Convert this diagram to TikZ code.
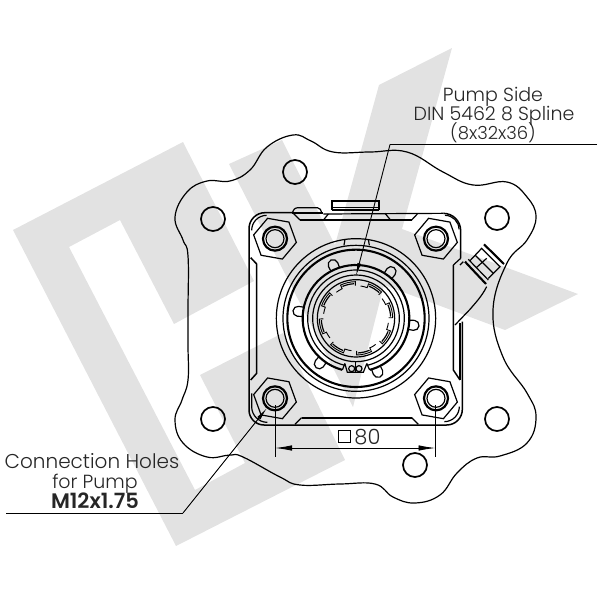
\documentclass[tikz,border=0pt]{standalone}
\usepackage{fontspec}
\usetikzlibrary{arrows.meta}
\setmainfont{Poppins Light}
\newfontfamily\boldlabel{Poppins SemiBold}
\definecolor{wm}{HTML}{E2E2E2}
\tikzset{
  thinline/.style={line width=0.9pt,black},
  midline/.style={line width=1.2pt,black},
  heavy/.style={line width=2.1pt,black},
  lab/.style={inner sep=0pt,anchor=base,font=\fontsize{19}{21}\selectfont,text=black!85},
  leader/.style={line width=0.9pt,black},
  tipped/.style={leader,-{Latex[length=13pt,width=4pt]}},
  dimtips/.style={leader,{Latex[length=17pt,width=5.5pt]}-{Latex[length=17pt,width=5.5pt]}},
}
\begin{document}
\begin{tikzpicture}[x=1pt,y=-1pt]
\useasboundingbox (0,0) rectangle (600,600);
% watermark
\fill[wm] (13,230)--(183,142)--(254,281)--(174,324)--(120,220)--(69,247)--(195,490)--(245,463)--(200,375)--(283,333)--(345,460)--(176,546)--cycle;
\fill[wm] (229,164)--(282,140)--(335,245)--(379,85)--(452,48)--(402,229)--(578,294)--(505,330)--(384,285)--(353,407)--cycle;
% plate outline
\draw[midline] plot[smooth cycle,tension=0.7] coordinates {
 (188,310)(188,256)(183,240)(175,217)(187,192)(207,181)(230,181)(250,170)(267,147)(293,135)(311,141)(333,152)(370,152)(407,152)(443,172)(473,185)(507,182)(527,197)(536,217)(527,240)(507,263)(493,310)(503,357)(527,393)(536,417)(527,443)(500,456)(477,458)(457,473)(440,495)(415,503)(393,497)(375,484)(340,484)(300,485)(280,477)(243,457)(230,455)(207,457)(183,443)(175,420)(182,400)(188,380)(188,345)};
% plate holes
\foreach \hx/\hy in {295/172,213/219,213/419,415/465,497/419,497/218}
  \draw[line width=1.7pt] (\hx,\hy) circle[radius=12];
% mechanical body, in coordinates of 1/3 px
\begin{scope}[shift={(230,190)},x=0.33333pt,y=-0.33333pt]
 % outline
 \draw[heavy,line width=1.5pt] (190,68)--(105,68) arc[start angle=-90,delta angle=-90,radius=48]--(57,660) arc[start angle=180,delta angle=-90,radius=45]--(650,705) arc[start angle=90,delta angle=-90,radius=47]--(697,395);
 \draw[heavy,line width=1.5pt] (640,70) arc[start angle=-90,delta angle=90,radius=52]--(692,205);
 \draw[midline] (110,76) arc[start angle=-90,delta angle=-90,radius=45];
 \draw[midline] (645,76) arc[start angle=-90,delta angle=90,radius=42];
 \draw[midline] (65,610) --(65,650) arc[start angle=180,delta angle=-90,radius=47];
 \draw[midline] (688,650) arc[start angle=0,delta angle=90,radius=45];
 % left and right side inner lines
 \draw[heavy,line width=1.5pt] (62,203)--(80,222)--(80,550)--(62,570);
 \draw[heavy,line width=1.5pt] (670,225)--(670,540)--(690,570);
 \draw[midline] (692,205)--(670,225);
 % top
 \draw[midline] (187,70) .. controls (190,58) and (195,53) .. (205,53)--(262,53) .. controls (270,53) and (273,60) .. (275,70);
 \draw[heavy] (187,70)--(280,70);
 \draw[midline] (280,72)--(640,70);
 \draw[midline] (190,70)--(210,90);
 \draw[heavy] (210,90)--(545,90);
 \draw[midline] (282,88)--(295,72);
 \draw[midline] (465,70)--(480,88);
 \draw[midline] (545,90)--(562,72);
 \draw[heavy] (305,60)--(305,33)--(447,33)--(447,60);
 \draw[heavy] (305,60)--(447,60);
 \draw[thinline] (305,52)--(447,52);
 % bottom
 \draw[heavy] (215,683)--(545,683);
 \draw[midline] (215,683)--(195,703);
 \draw[midline] (545,683)--(565,703);
 % right bracket
 \draw[midline] (690,225)--(700,215);
 \draw[midline] (770,290) .. controls (755,320) and (735,340) .. (720,358)--(675,405);
 \draw[midline] (690,400)--(690,570);
 % plug
 \draw[heavy] (705,215)--(768,282);
 \draw[midline] (715,208)--(775,270);
 \draw[midline] (720,212)--(755,175)--(810,230)--(775,265);
 \draw[midline] (740,232)--(770,205);
 \draw[midline] (735,195)--(790,250);
 \draw[heavy] (762,163)--(822,222);
 % nuts
 \foreach \nx/\ny in {135/146,618/146,135/625,618/625}{
   \draw[midline] (\nx,\ny) ++(10:65)--++(130:65)--++(190:65)--++(250:65)--++(310:65)--++(10:65)--cycle;
   \draw[line width=2.2pt] (\nx,\ny) circle[radius=36];
   \draw[midline] (\nx,\ny) circle[radius=27];
 }
 % rings
 \draw[midline] (378,385) circle[radius=239];
 \draw[midline] (378,385) circle[radius=219];
 \draw[heavy] (378,385) circle[radius=206];
 \draw[heavy] (378,385) ++(105:160) arc[start angle=105,delta angle=330,radius=160];
 \draw[midline] (378,385) ++(103:145) arc[start angle=103,delta angle=334,radius=145];
 \draw[midline] (378,385) circle[radius=130];
 \draw[midline] (378,385) circle[radius=116];
 % flat on top
 \draw[midline] (345,148)--(342,166);
 \draw[midline] (415,148)--(418,166);
 % lugs
 \foreach \a in {-113,-53,-173,7,129,68}{
  \begin{scope}[shift={(378,385)}]
   \draw[midline] (\a-5:162)--(\a-5:176) arc[start angle=\a-90,delta angle=180,radius=15]--(\a+5:162);
  \end{scope}
 }
 % circlip
 \draw[midline] (337,540)--(345,520);
 \draw[midline] (419,540)--(410,520);
 \draw[midline] (345,522)--(352,547)--(400,547)--(410,522);
 \draw[midline] (365,536) circle[radius=9];
 \draw[midline] (387,536) circle[radius=9];
 \draw[midline] (376,515)--(376,550);
 % spline
 \foreach \b in {0,45,...,315}{
  \begin{scope}[shift={(378,385)}]
   \draw[thinline] (\b+8:98) arc[start angle=\b+8,delta angle=12,radius=98]--(\b+20:110) arc[start angle=\b+20,delta angle=24,radius=110]--(\b+44:98);
   \draw[midline] (\b+22:104) arc[start angle=\b+22,delta angle=20,radius=104];
  \end{scope}
 }
\end{scope}
% dimension
\coordinate (extLtop) at (275,405);
\coordinate (extLbot) at (275,457);
\coordinate (extRtop) at (435.5,405);
\coordinate (extRbot) at (435.5,457);
\coordinate (dimL) at (275,448);
\coordinate (dimR) at (435.5,448);
\draw[leader] (extLtop)--(extLbot);
\draw[leader] (extRtop)--(extRbot);
\draw[dimtips] (dimL)--(dimR);
\node[draw=black,line width=0.8pt,minimum size=12pt,inner sep=0pt] (sq) at (344,436.5) {};
\node[lab,font=\fontsize{21}{23}\selectfont] (eighty) at (367.5,444) {80};
% labels
\node[lab] (pump1) at (493,101) {Pump Side};
\node[lab] (pump2) at (494,120) {DIN 5462 8 Spline};
\node[lab,font=\fontsize{18}{20}\selectfont] (pump3) at (493,139) {(8x32x36)};
\node[lab,font=\fontsize{20}{22}\selectfont] (conn1) at (92,468) {Connection Holes};
\node[lab] (conn2) at (95,488) {for Pump};
\node[lab,font=\fontsize{21}{23}\boldlabel] (conn3) at (95,508) {M12x1.75};
% leaders
\coordinate (pumpEnd) at (597,144.5);
\coordinate (pumpKnee) at (390,144.5);
\coordinate (pumpTip) at (356,276);
\coordinate (connEnd) at (6,513);
\coordinate (connKnee) at (183,513);
\coordinate (connTip) at (267,408);
\draw[leader] (pumpEnd)--(pumpKnee);
\draw[tipped] (pumpKnee)--(pumpTip);
\draw[leader] (connEnd)--(connKnee);
\draw[tipped] (connKnee)--(connTip);
\end{tikzpicture}
\end{document}
